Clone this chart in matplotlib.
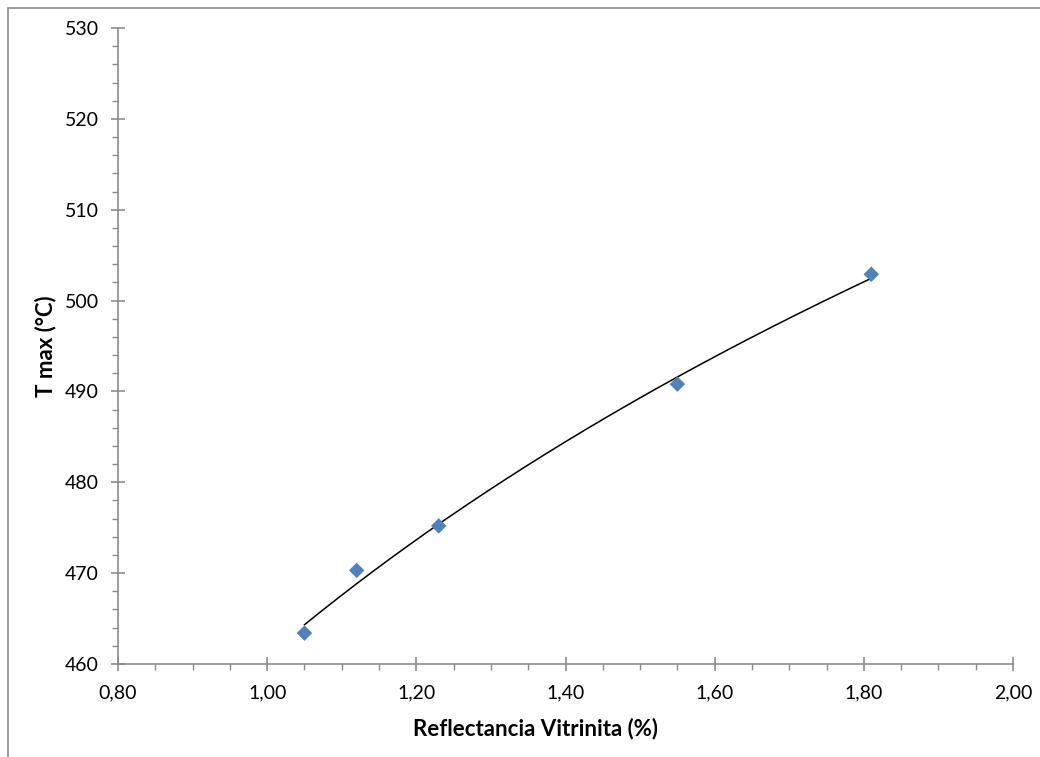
import numpy as np
import matplotlib.pyplot as plt
from matplotlib.ticker import MultipleLocator, FuncFormatter
from matplotlib.patches import Rectangle

plt.rcParams['font.family'] = ['Lato', 'DejaVu Sans']

# reflectancia de vitrinita (%) y Tmax (°C)
ro = np.array([1.05, 1.12, 1.23, 1.55, 1.81])
tmax = np.array([463.4, 470.3, 475.2, 490.8, 502.9])

# ajuste logaritmico  T = a ln(Ro) + b
a, b = np.polyfit(np.log(ro), tmax, 1)
x_fit = np.linspace(ro.min(), ro.max(), 200)
y_fit = a * np.log(x_fit) + b

fig = plt.figure(figsize=(10.4, 7.57), dpi=100)
ax = fig.add_axes([118 / 1040, 93 / 757, 895 / 1040, 636 / 757])

ax.plot(x_fit, y_fit, color='black', lw=1.1, zorder=2)
ax.scatter(ro, tmax, marker='D', s=62, color='#4F81BD', edgecolors='none', zorder=3)

ax.set_xlim(0.80, 2.00)
ax.set_ylim(460, 530)
ax.xaxis.set_major_locator(MultipleLocator(0.2))
ax.xaxis.set_minor_locator(MultipleLocator(0.05))
ax.yaxis.set_major_locator(MultipleLocator(10))
ax.yaxis.set_minor_locator(MultipleLocator(2))
ax.xaxis.set_major_formatter(FuncFormatter(lambda v, p: f'{v:.2f}'.replace('.', ',')))
ax.yaxis.set_major_formatter(FuncFormatter(lambda v, p: f'{v:.0f}'))

for side in ('top', 'right'):
    ax.spines[side].set_visible(False)
for side in ('left', 'bottom'):
    ax.spines[side].set_color('#8c8c8c')
    ax.spines[side].set_linewidth(1.2)

ax.tick_params(which='major', direction='inout', length=9.5, width=1.2,
               color='#8c8c8c', labelsize=14, labelcolor='black')
ax.tick_params(which='minor', direction='out', length=4.3, width=1.0, color='#8c8c8c')
ax.tick_params(axis='y', which='major', pad=9)
ax.tick_params(axis='x', which='major', pad=10)

ax.set_xlabel('Reflectancia Vitrinita (%)', fontsize=16, fontweight='bold', labelpad=12)
ax.set_ylabel('T max (°C)', fontsize=16, fontweight='bold', labelpad=6)
# titulo del eje x algo desplazado a la izquierda
ax.xaxis.label.set_x(0.466)

# borde del area del grafico
fig.patches.append(Rectangle((7.5 / 1040, -0.1), 1.2, 1.1 - 7.5 / 757, transform=fig.transFigure,
                             fill=False, edgecolor='#8c8c8c', linewidth=1.2))

fig.savefig('out.png', dpi=100)
